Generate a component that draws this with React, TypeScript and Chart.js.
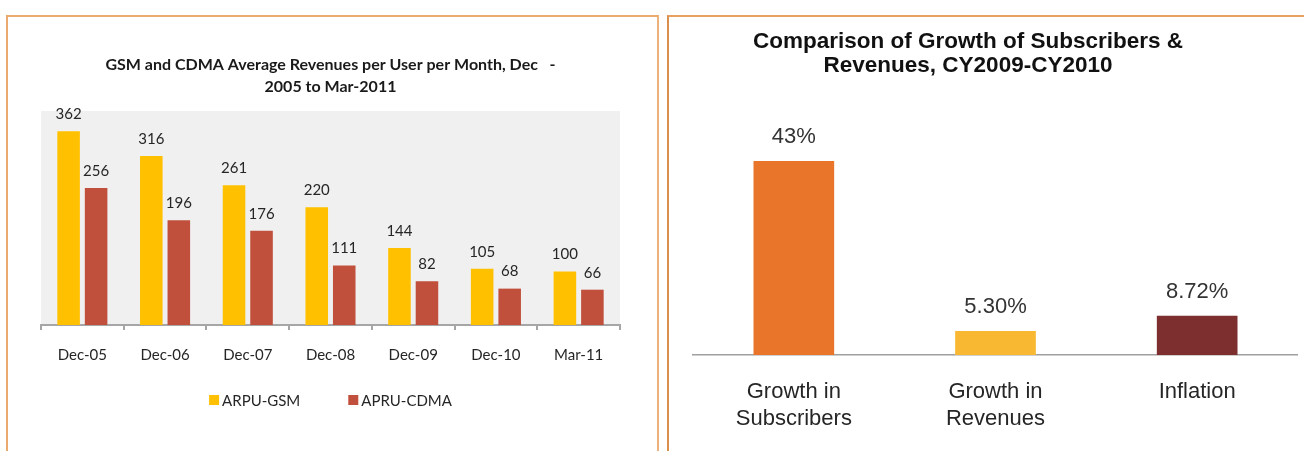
import React, { useEffect, useRef } from "react";
import { Chart, registerables } from "chart.js";

Chart.register(...registerables);

// ---- Left chart data ----
const arpuTitle = [
  "GSM and CDMA Average Revenues per User per Month, Dec   -",
  "2005 to Mar-2011",
];
const arpuCategories = ["Dec-05", "Dec-06", "Dec-07", "Dec-08", "Dec-09", "Dec-10", "Mar-11"];
const arpuGsm = [362, 316, 261, 220, 144, 105, 100];
const arpuCdma = [256, 196, 176, 111, 82, 68, 66];
const arpuSeriesNames = ["ARPU-GSM", "APRU-CDMA"];
const arpuColors = ["#FFC000", "#C0503C"];

// ---- Right chart data ----
const growthTitle = ["Comparison of Growth of Subscribers &", "Revenues, CY2009-CY2010"];
const growthCategories = [["Growth in", "Subscribers"], ["Growth in", "Revenues"], ["Inflation"]];
const growthValues = [43, 5.3, 8.72];
const growthValueLabels = ["43%", "5.30%", "8.72%"];
const growthColors = ["#E8752A", "#F8B832", "#7D2F2F"];

function valueLabelPlugin(font: string, color: string, offset: number, fmt: (ds: number, i: number, v: number) => string) {
  return {
    id: "valueLabels",
    afterDatasetsDraw(chart: any) {
      const ctx = chart.ctx;
      ctx.save();
      ctx.font = font;
      ctx.fillStyle = color;
      ctx.textAlign = "center";
      ctx.textBaseline = "middle";
      chart.data.datasets.forEach((ds: any, di: number) => {
        const meta = chart.getDatasetMeta(di);
        meta.data.forEach((el: any, i: number) => {
          ctx.fillText(fmt(di, i, ds.data[i]), el.x, el.y - offset);
        });
      });
      ctx.restore();
    },
  };
}

const plotBgPlugin = {
  id: "plotBg",
  beforeDraw(chart: any) {
    const { ctx, chartArea } = chart;
    ctx.save();
    ctx.fillStyle = "#F0F0F0";
    ctx.fillRect(chartArea.left, chartArea.top, chartArea.right - chartArea.left, chartArea.bottom - chartArea.top);
    ctx.restore();
  },
};

// Legend below the x axis, drawn from the datasets (labels + colours)
const bottomLegendPlugin = {
  id: "bottomLegend",
  afterDraw(chart: any) {
    const { ctx, chartArea } = chart;
    const box = 10;
    const boxGap = 3;
    const itemGap = 48;
    ctx.save();
    ctx.font = "15px Lato";
    ctx.textBaseline = "middle";
    ctx.textAlign = "left";
    const items = chart.data.datasets.map((ds: any) => ({
      text: ds.label,
      color: ds.backgroundColor,
      w: box + boxGap + ctx.measureText(ds.label).width,
    }));
    const total = items.reduce((s: number, it: any) => s + it.w, 0) + itemGap * (items.length - 1);
    let x = (chartArea.left + chartArea.right) / 2 - total / 2;
    const y = chartArea.bottom + 75;
    items.forEach((it: any) => {
      ctx.fillStyle = it.color;
      ctx.fillRect(x, y - box / 2, box, box);
      ctx.fillStyle = "#262626";
      ctx.fillText(it.text, x + box + boxGap, y + 1);
      x += it.w + itemGap;
    });
    ctx.restore();
  },
};

export default function App() {
  const leftRef = useRef<HTMLCanvasElement>(null);
  const rightRef = useRef<HTMLCanvasElement>(null);

  useEffect(() => {
    const left = new Chart(leftRef.current!, {
      type: "bar",
      data: {
        labels: arpuCategories,
        datasets: [
          { label: arpuSeriesNames[0], data: arpuGsm, backgroundColor: arpuColors[0], barPercentage: 0.82, categoryPercentage: 0.665 },
          { label: arpuSeriesNames[1], data: arpuCdma, backgroundColor: arpuColors[1], barPercentage: 0.82, categoryPercentage: 0.665 },
        ],
      },
      options: {
        responsive: false,
        animation: false,
        layout: { padding: { left: 32, right: 36, top: 0, bottom: 71 } },
        scales: {
          x: {
            grid: { display: true, drawOnChartArea: false, drawTicks: true, tickLength: 5, color: "#A6A6A6", lineWidth: 2, offset: true },
            border: { display: true, color: "#A6A6A6", width: 2 },
            ticks: { color: "#262626", font: { family: "Lato", size: 15 }, padding: 16 },
          },
          y: { display: false, min: 0, max: 400 },
        },
        plugins: {
          title: {
            display: true,
            text: arpuTitle,
            color: "#1a1a1a",
            font: { family: "Lato", size: 16, weight: "bold", lineHeight: 22 / 16 },
            padding: { top: 37, bottom: 13 },
          },
          legend: { display: false },
          tooltip: { enabled: false },
        },
      },
      plugins: [plotBgPlugin, bottomLegendPlugin, valueLabelPlugin("15px Lato", "#262626", 17, (_d, _i, v) => String(v))],
    } as any);

    const right = new Chart(rightRef.current!, {
      type: "bar",
      data: {
        labels: growthCategories,
        datasets: [
          {
            label: "Growth",
            data: growthValues,
            backgroundColor: growthColors,
            barPercentage: 0.4,
            categoryPercentage: 1,
          },
        ],
      },
      options: {
        responsive: false,
        animation: false,
        layout: { padding: { left: 0, right: 0, top: 0, bottom: 7 } },
        scales: {
          x: {
            grid: { display: false },
            border: { display: true, color: "#A0A0A0", width: 1.5 },
            ticks: { color: "#262626", font: { family: "Liberation Sans", size: 22, lineHeight: 27 / 22 }, padding: 15 },
          },
          y: {
            display: true,
            min: 0,
            max: 50,
            ticks: { display: false },
            grid: { display: false },
            border: { display: false },
            afterFit: (scale: any) => {
              scale.width = 55;
            },
          },
        },
        plugins: {
          title: {
            display: true,
            text: growthTitle,
            color: "#111111",
            font: { family: "Liberation Sans", size: 22.5, weight: "bold", lineHeight: 24 / 22.5 },
            padding: { top: 13, bottom: 51.5 },
          },
          legend: { display: false },
          tooltip: { enabled: false },
        },
      },
      plugins: [valueLabelPlugin("22px 'Liberation Sans'", "#333333", 24, (_d, i) => growthValueLabels[i])],
    } as any);

    return () => {
      left.destroy();
      right.destroy();
    };
  }, []);

  return (
    <div style={{ position: "fixed", left: 0, top: 0, width: 1304, height: 451, background: "#ffffff", overflow: "hidden" }}>
      <canvas ref={leftRef} width={647} height={434} style={{ position: "absolute", left: 9, top: 17, width: 647, height: 434 }} />
      <canvas ref={rightRef} width={660} height={437} style={{ position: "absolute", left: 638, top: 17, width: 660, height: 437 }} />
      <div
        style={{
          position: "absolute",
          left: 6,
          top: 15,
          width: 653,
          height: 470,
          boxSizing: "border-box",
          borderTop: "2px solid #EBAA6E",
          borderLeft: "2px solid #EBAA6E",
          borderRight: "2px solid #EDB27A",
        }}
      />
      <div
        style={{
          position: "absolute",
          left: 667,
          top: 15,
          width: 660,
          height: 470,
          boxSizing: "border-box",
          borderTop: "2px solid #E6A062",
          borderLeft: "2px solid #DA904C",
        }}
      />
    </div>
  );
}
